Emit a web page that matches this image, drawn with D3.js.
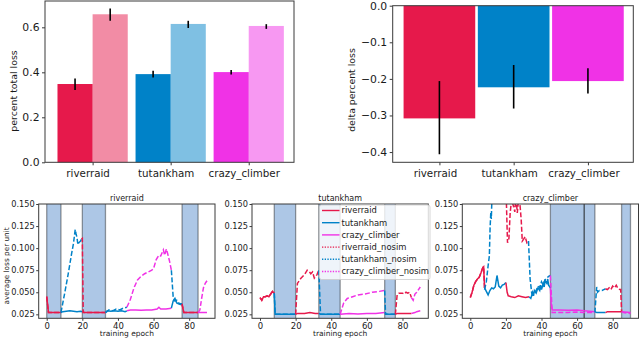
<!DOCTYPE html>
<html>
<head>
<meta charset="utf-8">
<script src="https://cdn.jsdelivr.net/npm/d3@7"></script>
<style>
body { margin: 0; background: #fff; }
svg { display: block; font-family: "DejaVu Sans", sans-serif; }
</style>
</head>
<body>
<svg id="fig" width="640" height="341"></svg>
<script>
const games = ["riverraid", "tutankham", "crazy_climber"];
const gameColors = ["#e6194b", "#0082c8", "#f032e6"];

// top left: percent total loss (sim / nosim) with error ranges
const totalSim = [0.348, 0.392, 0.401];
const totalSimErr = [[0.321, 0.373], [0.377, 0.407], [0.390, 0.410]];
const totalNosim = [0.658, 0.615, 0.606];
const totalNosimErr = [[0.629, 0.684], [0.597, 0.629], [0.593, 0.614]];
const totalTicks = [0, 0.2, 0.4, 0.6];

// top right: delta percent loss
const deltaLoss = [-0.308, -0.223, -0.206];
const deltaErr = [[-0.406, -0.206], [-0.281, -0.162], [-0.240, -0.171]];
const deltaTicks = [0, -0.1, -0.2, -0.3, -0.4];

// bottom: loss per unit over training epochs
const lossTicks = [0.025, 0.05, 0.075, 0.1, 0.125, 0.15];
const epochTicks = [0, 20, 40, 60, 80];

const bandsRiverraid = [[0, 8], [20, 33], [76, 85]];
const bandsTutankham = [[8, 20], [33, 45], [70, 76]];
const bandsCrazyClimber = [[45, 64], [64, 70], [85, 90]];

// each segment: which game is trained, loss with sim and without
const lossRiverraid = [
  {game: 0, sim: [[0, 0.045], [1, 0.027], [8, 0.027]],
            nosim: [[0, 0.045], [1, 0.027], [8, 0.027]]},
  {game: 1, sim: [[8, 0.027], [9, 0.028], [11, 0.0285], [13, 0.029], [15, 0.0285], [17, 0.028], [19, 0.0285], [20, 0.028]],
            nosim: [[8, 0.027], [10, 0.048], [12, 0.07], [14, 0.094], [15, 0.105], [16, 0.121], [16.5, 0.116], [17, 0.112], [17.5, 0.104], [18, 0.106], [19, 0.108], [19.5, 0.11]]},
  {game: 0, sim: [[20, 0.028], [21, 0.027], [33, 0.027]],
            nosim: [[19.5, 0.11], [20, 0.111], [20.5, 0.027], [33, 0.027]]},
  {game: 1, sim: [[33, 0.027], [34, 0.029], [36, 0.0285], [38, 0.029], [40, 0.0285], [42, 0.029], [44, 0.028], [45, 0.029]],
            nosim: [[33, 0.027], [35, 0.030], [37, 0.029], [39, 0.031], [41, 0.030], [43, 0.032], [45, 0.033]]},
  {game: 2, sim: [[45, 0.029], [47, 0.030], [50, 0.030], [53, 0.0295], [56, 0.030], [59, 0.030], [62, 0.031], [63, 0.033], [64, 0.031], [67, 0.031], [70, 0.032]],
            nosim: [[45, 0.033], [47, 0.042], [49, 0.055], [51, 0.064], [53, 0.068], [55, 0.071], [57, 0.073], [59, 0.075], [60, 0.077], [61.5, 0.087], [63, 0.092], [64, 0.091], [65.5, 0.098], [66.2, 0.092], [67.2, 0.099], [68, 0.093], [69, 0.085], [70, 0.075]]},
  {game: 1, sim: [[70, 0.032], [71, 0.040], [72, 0.043], [73, 0.038], [74, 0.037], [75, 0.036], [76, 0.036]],
            nosim: [[70, 0.075], [70.5, 0.06], [71, 0.045], [72, 0.040], [73, 0.041], [74, 0.038], [75, 0.037], [76, 0.037]]},
  {game: 0, sim: [[76, 0.036], [77, 0.027], [85, 0.027]],
            nosim: [[76, 0.037], [77, 0.027], [85, 0.027]]},
  {game: 2, sim: [[85, 0.027], [90, 0.027]],
            nosim: [[85, 0.027], [86, 0.03], [87, 0.043], [88, 0.055], [89, 0.06], [90, 0.063]]}
];

const lossTutankham = [
  {game: 0, sim: [[0, 0.044], [1, 0.041], [2, 0.045], [3, 0.045], [4, 0.046], [5, 0.045], [6, 0.048], [7, 0.051], [8, 0.049]],
            nosim: [[0, 0.044], [1, 0.041], [2, 0.045], [3, 0.045], [4, 0.046], [5, 0.045], [6, 0.048], [7, 0.051], [8, 0.049]]},
  {game: 1, sim: [[8, 0.049], [8.5, 0.025], [20, 0.025]],
            nosim: [[8, 0.049], [8.5, 0.025], [20, 0.025]]},
  {game: 0, sim: [[20, 0.025], [21, 0.026], [25, 0.026], [28, 0.027], [31, 0.026], [33, 0.026]],
            nosim: [[20, 0.025], [21, 0.06], [23, 0.066], [25, 0.07], [26.5, 0.075], [27.5, 0.074], [28.5, 0.071], [29.5, 0.073], [30.5, 0.066], [32, 0.07], [33, 0.075]]},
  {game: 1, sim: [[33, 0.026], [34, 0.025], [45, 0.025]],
            nosim: [[33, 0.075], [33.5, 0.05], [34, 0.025], [45, 0.025]]},
  {game: 2, sim: [[45, 0.025], [50, 0.026], [55, 0.0255], [60, 0.026], [65, 0.026], [70, 0.027]],
            nosim: [[45, 0.025], [47, 0.038], [49, 0.043], [52, 0.045], [55, 0.047], [59, 0.048], [63, 0.05], [67, 0.051], [70, 0.052]]},
  {game: 1, sim: [[70, 0.027], [71, 0.025], [76, 0.025]],
            nosim: [[70, 0.052], [70.5, 0.025], [76, 0.025]]},
  {game: 0, sim: [[76, 0.025], [77, 0.026], [85, 0.026]],
            nosim: [[76, 0.025], [77, 0.047], [78, 0.049], [80, 0.049], [81, 0.048], [82, 0.05], [83, 0.049], [84, 0.05], [85, 0.044]]},
  {game: 2, sim: [[85, 0.026], [87, 0.027], [88, 0.028], [90, 0.029]],
            nosim: [[85, 0.044], [86, 0.041], [87, 0.048], [88, 0.05], [89, 0.053], [90, 0.056]]}
];

const lossCrazyClimber = [
  {game: 0, sim: [[0, 0.044], [1, 0.050], [2, 0.058], [3, 0.062], [4, 0.065], [5, 0.067], [6, 0.072], [7, 0.078], [7.5, 0.079], [8, 0.055]],
            nosim: [[0, 0.044], [1, 0.050], [2, 0.058], [3, 0.062], [4, 0.065], [5, 0.067], [6, 0.072], [7, 0.078], [7.5, 0.079], [8, 0.055]]},
  {game: 1, sim: [[8, 0.055], [9, 0.051], [10, 0.047], [11, 0.052], [12, 0.055], [13, 0.054], [14, 0.056], [15, 0.069], [16, 0.057], [17, 0.055], [18, 0.058], [19, 0.059], [20, 0.061]],
            nosim: [[8, 0.053], [9, 0.062], [10, 0.08], [10.7, 0.091], [11.1, 0.122], [11.5, 0.14], [11.8, 0.133], [12.2, 0.16], [14, 0.2], [20, 0.2]]},
  {game: 0, sim: [[20, 0.061], [20.7, 0.05], [21.3, 0.046], [23, 0.045], [25, 0.044], [27, 0.046], [29, 0.045], [31, 0.044], [33, 0.045]],
            nosim: [[20, 0.2], [20.3, 0.15], [20.9, 0.106], [21.7, 0.111], [22.4, 0.14], [23.2, 0.155], [24.3, 0.147], [25, 0.141], [25.6, 0.16], [26.4, 0.14], [27.3, 0.16], [28, 0.147], [28.6, 0.132], [29.2, 0.108], [29.9, 0.11], [30.8, 0.113], [31.8, 0.106], [32.7, 0.108]]},
  {game: 1, sim: [[33, 0.045], [34, 0.043], [35, 0.05], [35.5, 0.046], [36, 0.052], [37, 0.049], [38, 0.055], [39, 0.052], [39.5, 0.058], [40, 0.053], [41, 0.06], [41.5, 0.056], [42, 0.063], [43, 0.06], [43.5, 0.065], [44, 0.058], [45, 0.055]],
            nosim: [[32.7, 0.108], [33.6, 0.065], [34.5, 0.049], [35, 0.047], [36, 0.05], [37, 0.052], [38, 0.057], [39, 0.055], [40, 0.062], [41, 0.058], [42, 0.064], [43, 0.066], [44, 0.068], [45, 0.069]]},
  {game: 2, sim: [[45, 0.055], [45.5, 0.035], [46, 0.030], [50, 0.030], [55, 0.0295], [60, 0.030], [64, 0.029], [67, 0.0285], [70, 0.028]],
            nosim: [[45, 0.069], [46, 0.027], [50, 0.027], [55, 0.0272], [60, 0.0275], [64, 0.027], [70, 0.027]]},
  {game: 1, sim: [[70, 0.028], [71, 0.027], [76, 0.027]],
            nosim: [[70, 0.027], [71, 0.056], [71.5, 0.05], [72.5, 0.052], [74, 0.052], [75, 0.053], [76, 0.054]]},
  {game: 0, sim: [[76, 0.027], [77, 0.028], [85, 0.028]],
            nosim: [[76, 0.054], [77, 0.053], [78, 0.055], [79, 0.053], [80, 0.057], [81, 0.055], [82, 0.058], [83, 0.054], [84, 0.053], [84.5, 0.053], [85, 0.028]]},
  {game: 2, sim: [[85, 0.028], [90, 0.027]],
            nosim: [[85, 0.028], [86, 0.027], [90, 0.026]]}
];

const svg = d3.select("#fig");
const frameColor = "#3a3a3a";
const textColor = "#1a1a1a";

function styleAxis(g, size) {
  g.attr("font-family", "DejaVu Sans").attr("font-size", size);
  g.select(".domain").remove();
  g.selectAll(".tick line").attr("stroke", frameColor);
  g.selectAll(".tick text").attr("fill", textColor);
}

function frame(box) {
  svg.append("rect")
    .attr("x", box.x0).attr("y", box.y0)
    .attr("width", box.x1 - box.x0).attr("height", box.y1 - box.y0)
    .attr("fill", "none").attr("stroke", frameColor).attr("stroke-width", 1);
}

function errBar(x, y, range) {
  svg.append("line")
    .attr("x1", x).attr("x2", x)
    .attr("y1", y(range[0])).attr("y2", y(range[1]))
    .attr("stroke", "#000").attr("stroke-width", 1.6);
}

// ---------- top left ----------
let tl = {x0: 45, x1: 294, y0: 1, y1: 162.3};
let xTL = d3.scaleLinear().domain([-0.385, 2.805]).range([tl.x0, tl.x1]);
let yTL = d3.scaleLinear().domain([0, 0.717]).range([tl.y1, tl.y0]);
const barW = 0.45;
let bw = xTL(barW) - xTL(0);

games.forEach((g, i) => {
  svg.append("rect")
    .attr("x", xTL(i - barW / 2)).attr("width", bw)
    .attr("y", yTL(totalSim[i])).attr("height", yTL(0) - yTL(totalSim[i]))
    .attr("fill", gameColors[i]);
  svg.append("rect")
    .attr("x", xTL(i + barW / 2)).attr("width", bw)
    .attr("y", yTL(totalNosim[i])).attr("height", yTL(0) - yTL(totalNosim[i]))
    .attr("fill", gameColors[i]).attr("fill-opacity", 0.5);
});
games.forEach((g, i) => {
  errBar(xTL(i), yTL, totalSimErr[i]);
  errBar(xTL(i + barW), yTL, totalNosimErr[i]);
});

svg.append("g")
  .attr("transform", `translate(${tl.x0},0)`)
  .call(d3.axisLeft(yTL).tickValues(totalTicks).tickFormat(d3.format(".1f")).tickSize(3).tickPadding(2.5))
  .call(g => styleAxis(g, 10.8));

svg.append("g")
  .attr("transform", `translate(0,${tl.y1})`)
  .call(d3.axisBottom(xTL).tickValues(games.map((g, i) => i + barW / 2)).tickFormat((d, i) => games[i]).tickSize(3).tickPadding(4))
  .call(g => styleAxis(g, 10.3))
  .call(g => g.selectAll(".tick text").attr("dx", -5));

frame(tl);

svg.append("text")
  .attr("transform", "translate(14,91) rotate(-90)")
  .attr("text-anchor", "middle").attr("dy", "0.35em")
  .attr("font-size", 9.4).attr("fill", textColor)
  .text("percent total loss");

// ---------- top right ----------
let tr = {x0: 392.7, x1: 633.3, y0: 5.7, y1: 162.3};
let xTR = d3.scaleLinear().domain([-0.629, 2.611]).range([tr.x0, tr.x1]);
let yTR = d3.scaleLinear().domain([-0.428, 0]).range([tr.y1, tr.y0]);
const deltaW = 0.965;

games.forEach((g, i) => {
  svg.append("rect")
    .attr("x", xTR(i - deltaW / 2)).attr("width", xTR(deltaW) - xTR(0))
    .attr("y", yTR(0)).attr("height", yTR(deltaLoss[i]) - yTR(0))
    .attr("fill", gameColors[i]);
});
games.forEach((g, i) => errBar(xTR(i), yTR, deltaErr[i]));

svg.append("g")
  .attr("transform", `translate(${tr.x0},0)`)
  .call(d3.axisLeft(yTR).tickValues(deltaTicks).tickFormat(d3.format(".1f")).tickSize(3).tickPadding(2.5))
  .call(g => styleAxis(g, 10.8));

svg.append("g")
  .attr("transform", `translate(0,${tr.y1})`)
  .call(d3.axisBottom(xTR).tickValues([0, 1, 2]).tickFormat(d => games[d]).tickSize(3).tickPadding(4))
  .call(g => styleAxis(g, 10.3))
  .call(g => g.selectAll(".tick text").attr("dx", -4.5));

frame(tr);

svg.append("text")
  .attr("transform", "translate(351.5,90) rotate(-90)")
  .attr("text-anchor", "middle").attr("dy", "0.35em")
  .attr("font-size", 9.4).attr("fill", textColor)
  .text("delta percent loss");

// ---------- bottom panels ----------
const panels = [
  {title: games[0], bands: bandsRiverraid, segs: lossRiverraid, x0: 38.7, x1: 215},
  {title: games[1], bands: bandsTutankham, segs: lossTutankham, x0: 252, x1: 428.3},
  {title: games[2], bands: bandsCrazyClimber, segs: lossCrazyClimber, x0: 462.3, x1: 638.5}
];
const py0 = 204, py1 = 318.3;

panels.forEach((p, pi) => {
  let x = d3.scaleLinear().domain([-4.5, 94.5]).range([p.x0, p.x1]);
  let y = d3.scaleLinear().domain([0.0205, 0.15]).range([py1, py0]);
  let line = d3.line().x(d => x(d[0])).y(d => y(d[1]));

  let clipId = "clip" + pi;
  svg.append("clipPath").attr("id", clipId)
    .append("rect").attr("x", p.x0).attr("y", py0).attr("width", p.x1 - p.x0).attr("height", py1 - py0);

  let g = svg.append("g").attr("clip-path", `url(#${clipId})`);

  g.selectAll(".band")
    .data(p.bands)
    .enter()
    .append("rect")
    .attr("x", d => x(d[0])).attr("width", d => x(d[1]) - x(d[0]))
    .attr("y", py0).attr("height", py1 - py0)
    .attr("fill", "#adc7e6");

  p.bands.forEach(b => {
    b.forEach(e => {
      g.append("line")
        .attr("x1", x(e)).attr("x2", x(e)).attr("y1", py0).attr("y2", py1)
        .attr("stroke", "#000").attr("stroke-opacity", 0.38).attr("stroke-width", 1.3);
    });
  });

  p.segs.forEach(s => {
    g.append("path")
      .attr("d", line(s.sim))
      .attr("fill", "none").attr("stroke", gameColors[s.game]).attr("stroke-width", 1.5);
  });
  p.segs.forEach(s => {
    g.append("path")
      .attr("d", line(s.nosim))
      .attr("fill", "none").attr("stroke", gameColors[s.game]).attr("stroke-width", 1.5)
      .attr("stroke-dasharray", "5,2.2");
  });

  svg.append("g")
    .attr("transform", `translate(${p.x0},0)`)
    .call(d3.axisLeft(y).tickValues(lossTicks).tickFormat(d3.format(".3f")).tickSize(2.5).tickPadding(1.5))
    .call(g => styleAxis(g, 8.2));

  svg.append("g")
    .attr("transform", `translate(0,${py1})`)
    .call(d3.axisBottom(x).tickValues(epochTicks).tickFormat(d3.format("d")).tickSize(2.5).tickPadding(1.7))
    .call(g => styleAxis(g, 8.5));

  frame({x0: p.x0, x1: p.x1, y0: py0, y1: py1});

  svg.append("text")
    .attr("x", (p.x0 + p.x1) / 2).attr("y", 200.5)
    .attr("text-anchor", "middle")
    .attr("font-size", 8).attr("fill", textColor)
    .text(p.title);

  svg.append("text")
    .attr("x", (p.x0 + p.x1) / 2).attr("y", 336)
    .attr("text-anchor", "middle")
    .attr("font-size", 7.5).attr("fill", textColor)
    .text("training epoch");
});

svg.append("text")
  .attr("transform", "translate(6,266) rotate(-90)")
  .attr("text-anchor", "middle").attr("dy", "0.35em")
  .attr("font-size", 7.3).attr("fill", textColor)
  .text("average loss per unit");

// ---------- legend (in tutankham panel) ----------
const legendLabels = games.concat(games.map(g => g + "_nosim"));
let leg = svg.append("g");
leg.append("rect")
  .attr("x", 319.5).attr("y", 205).attr("width", 110.5).attr("height", 74.5)
  .attr("rx", 2)
  .attr("fill", "#fff").attr("fill-opacity", 0.8)
  .attr("stroke", "#cccccc").attr("stroke-width", 0.8);

legendLabels.forEach((lab, i) => {
  let yy = 210.5 + i * 12.2;
  leg.append("line")
    .attr("x1", 322).attr("x2", 339.5).attr("y1", yy).attr("y2", yy)
    .attr("stroke", gameColors[i % 3]).attr("stroke-width", 1.4)
    .attr("stroke-dasharray", i < 3 ? null : "1.3,1.4");
  leg.append("text")
    .attr("x", 341.5).attr("y", yy).attr("dy", "0.35em")
    .attr("font-size", 8.4).attr("fill", textColor)
    .text(lab);
});
</script>
</body>
</html>
